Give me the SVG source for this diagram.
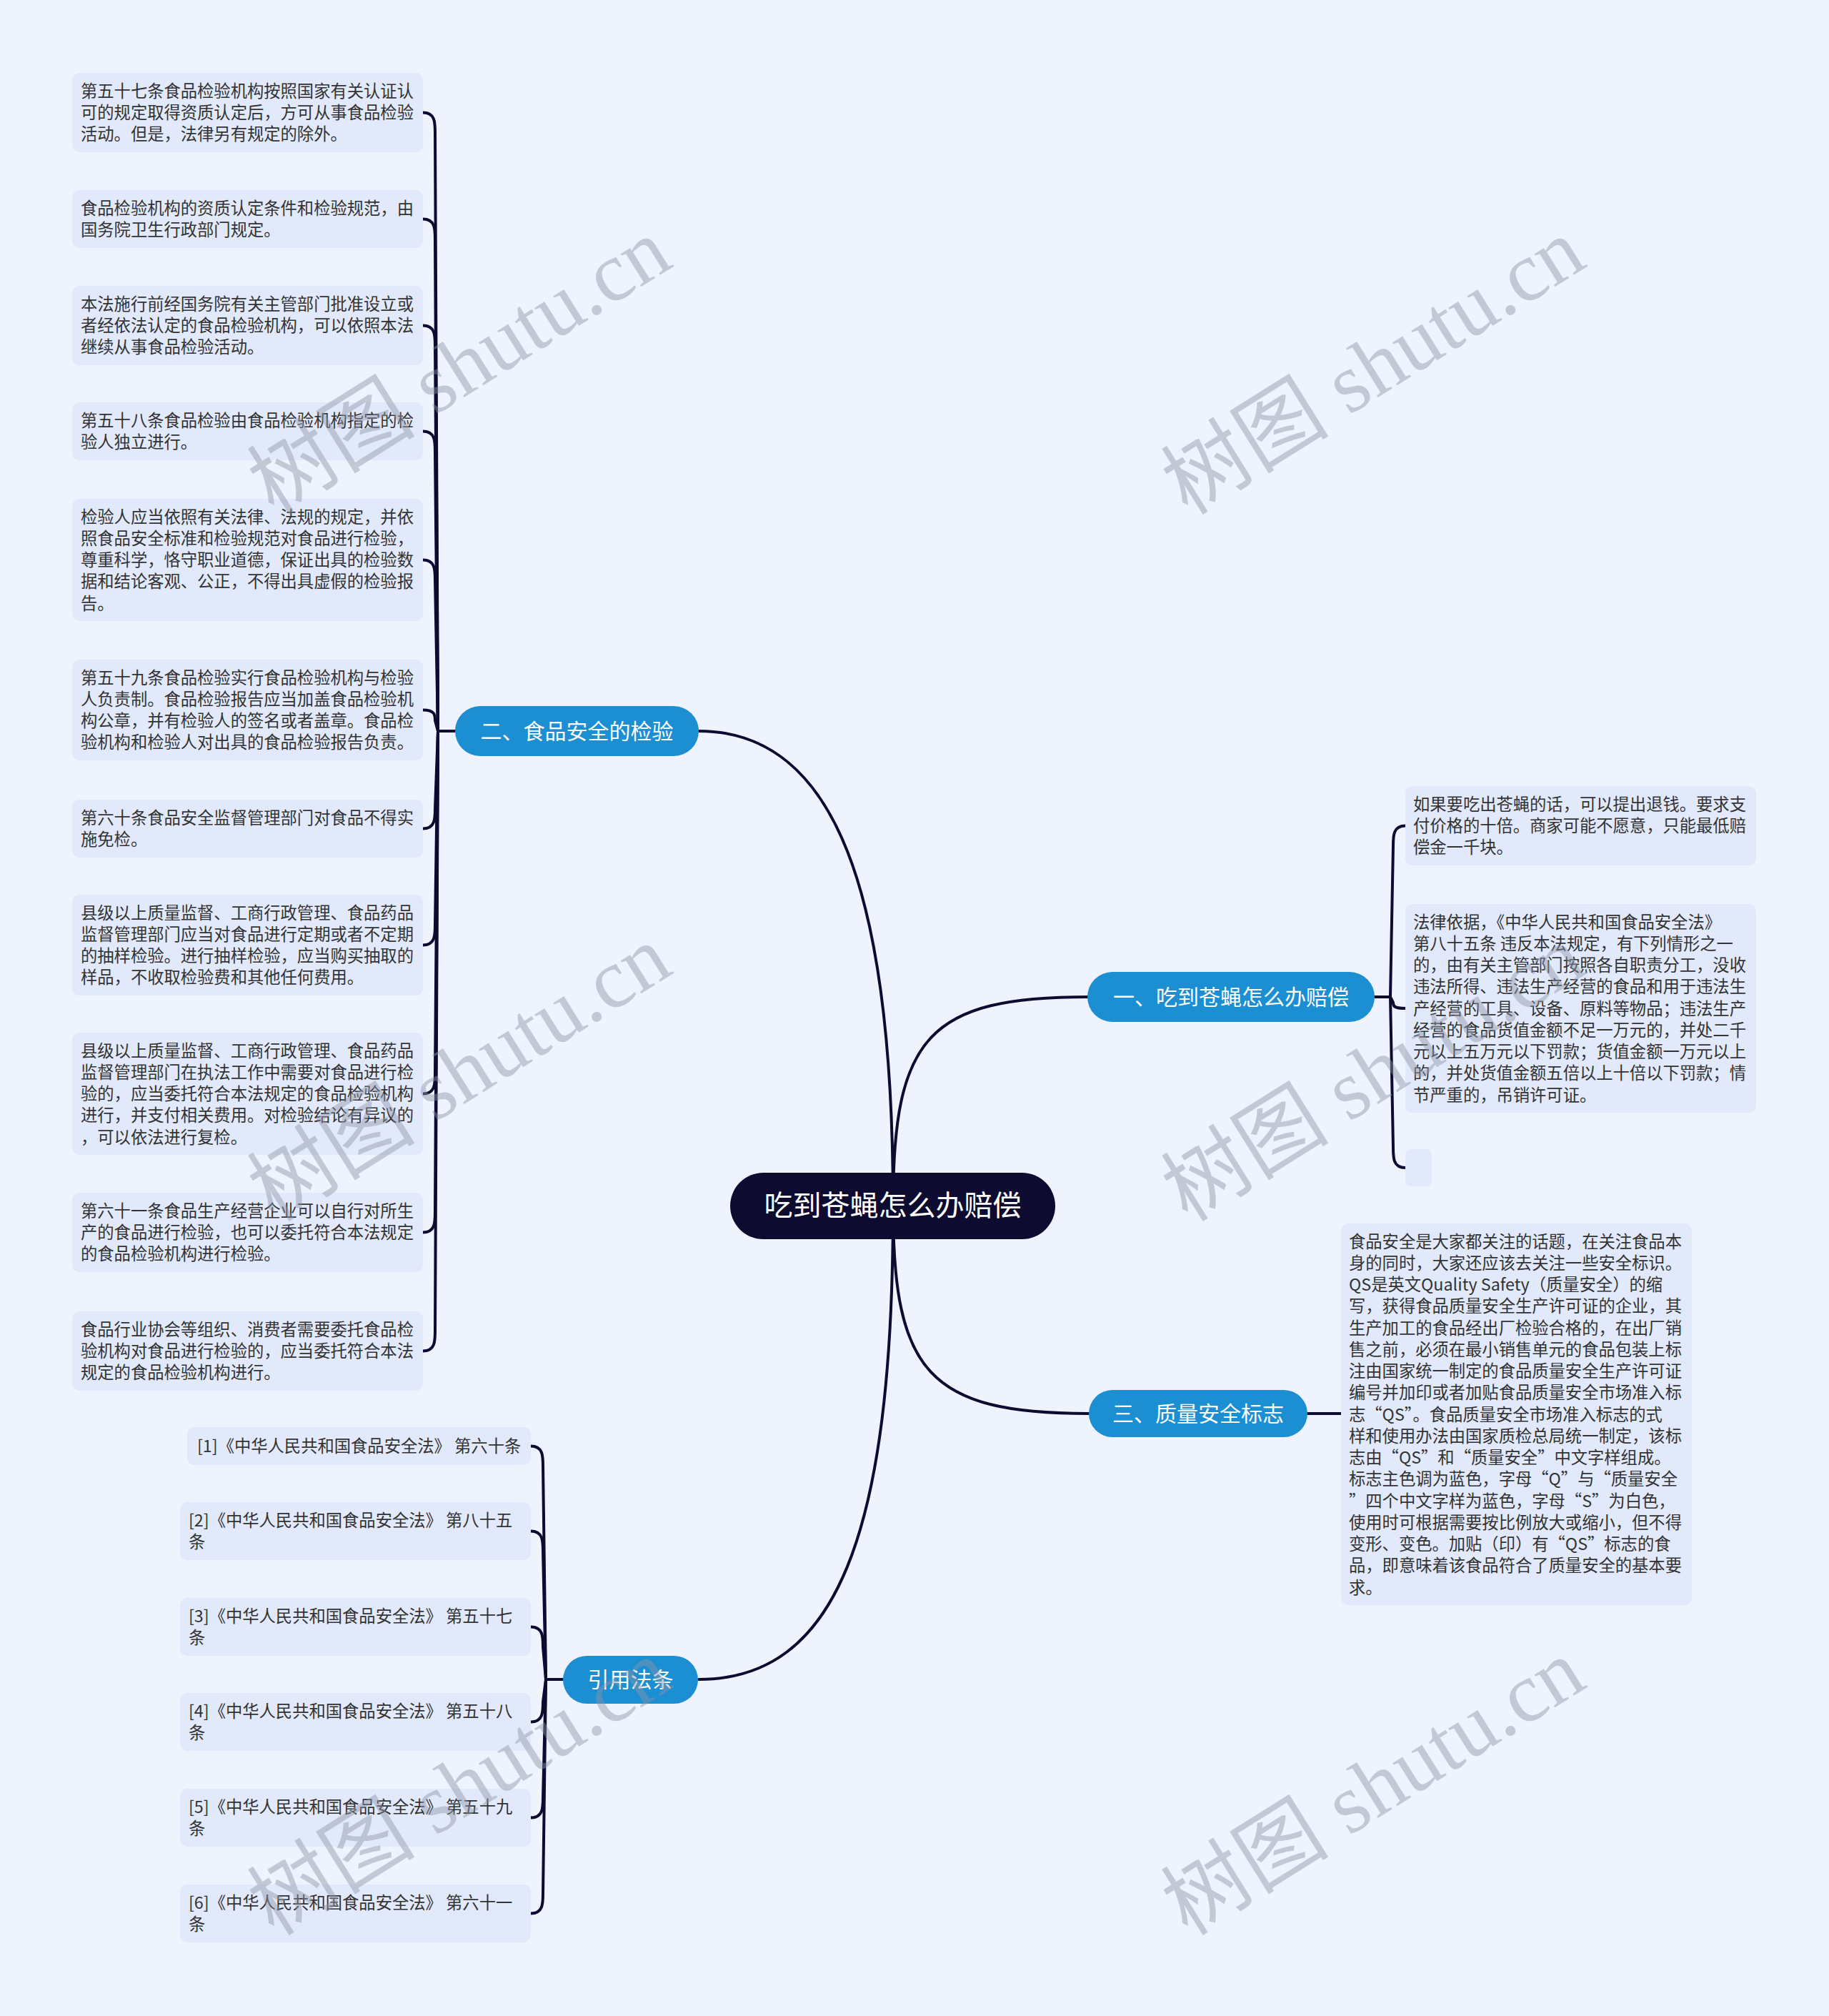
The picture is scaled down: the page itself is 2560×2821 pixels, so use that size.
<svg xmlns="http://www.w3.org/2000/svg" width="2560" height="2821" viewBox="0 0 2560 2821">
<style>
.bg{fill:#EEF3FE}
.leaf{fill:#E1E9FA}
.lt{font-family:"Noto Sans CJK SC","Noto Sans",sans-serif;font-size:23.3px;fill:#333333}
.root{fill:#0D0B2F}
.br{fill:#1B8FD2}
.nt{font-family:"Noto Sans CJK SC","Noto Sans",sans-serif;fill:#FFFFFF;text-anchor:middle}
.c{fill:none;stroke:#0D0B2F;stroke-width:4;stroke-linecap:round;stroke-linejoin:round}
.wm{font-family:"Liberation Serif","Noto Sans CJK SC",serif;font-size:118px;fill:#8E95A6;fill-opacity:0.45;text-anchor:middle}
</style>
<rect class="bg" x="0" y="0" width="2560" height="2821"/>

<g id="connectors">
  <path class="c" d="M 978 1023 C 1170 1023 1250 1250 1250 1687"/>
  <path class="c" d="M 1250 1687 C 1250 1450 1300 1395 1524 1395"/>
  <path class="c" d="M 1250 1687 C 1250 1920 1300 1978 1524 1978"/>
  <path class="c" d="M 1250 1687 C 1250 2150 1170 2350 978 2350"/>

  <path class="c" d="M 613 1023 L 637 1023"/>
  <path class="c" d="M 592 157.5 C 609 157.5 609 171.5 609 185.5 L 613 1023"/>
  <path class="c" d="M 592 306.5 C 609 306.5 609 320.5 609 334.5 L 613 1023"/>
  <path class="c" d="M 592 455.5 C 609 455.5 609 469.5 609 483.5 L 613 1023"/>
  <path class="c" d="M 592 603.5 C 609 603.5 609 617.5 609 631.5 L 613 1023"/>
  <path class="c" d="M 592 783.5 C 609 783.5 609 797.5 609 811.5 L 613 1023"/>
  <path class="c" d="M 592 993.5 C 609 993.5 609 1000.9 609 1008.3 L 613 1023"/>
  <path class="c" d="M 592 1159.5 C 609 1159.5 609 1145.5 609 1131.5 L 613 1023"/>
  <path class="c" d="M 592 1322.5 C 609 1322.5 609 1308.5 609 1294.5 L 613 1023"/>
  <path class="c" d="M 592 1530.5 C 609 1530.5 609 1516.5 609 1502.5 L 613 1023"/>
  <path class="c" d="M 592 1724.5 C 609 1724.5 609 1710.5 609 1696.5 L 613 1023"/>
  <path class="c" d="M 592 1890.5 C 609 1890.5 609 1876.5 609 1862.5 L 613 1023"/>

  <path class="c" d="M 1946 1395 L 1924 1395"/>
  <path class="c" d="M 1967 1155.5 C 1950 1155.5 1950 1169.5 1950 1183.5 L 1946 1395"/>
  <path class="c" d="M 1967 1411 C 1950 1411 1950 1407 1950 1403 L 1946 1395"/>
  <path class="c" d="M 1967 1634 C 1950 1634 1950 1620 1950 1606 L 1946 1395"/>

  <path class="c" d="M 1830 1978 L 1877 1978"/>

  <path class="c" d="M 764 2350 L 788 2350"/>
  <path class="c" d="M 743 2023.5 C 760 2023.5 760 2037.5 760 2051.5 L 764 2350"/>
  <path class="c" d="M 743 2142.5 C 760 2142.5 760 2156.5 760 2170.5 L 764 2350"/>
  <path class="c" d="M 743 2276.5 C 760 2276.5 760 2290.5 760 2304.5 L 764 2350"/>
  <path class="c" d="M 743 2409.5 C 760 2409.5 760 2395.5 760 2381.5 L 764 2350"/>
  <path class="c" d="M 743 2543.5 C 760 2543.5 760 2529.5 760 2515.5 L 764 2350"/>
  <path class="c" d="M 743 2677.5 C 760 2677.5 760 2663.5 760 2649.5 L 764 2350"/>
</g>

<g id="root">
  <rect class="root" x="1022" y="1641" width="455" height="93" rx="46.5"/>
  <text class="nt" x="1249.5" y="1701" font-size="40">吃到苍蝇怎么办赔偿</text>
</g>

<g id="branch-2">
  <rect class="br" x="637" y="988" width="341" height="70" rx="35"/>
  <text class="nt" x="807.5" y="1034" font-size="30">二、食品安全的检验</text>
</g>
<g id="branch-1">
  <rect class="br" x="1522" y="1360" width="402" height="70" rx="35"/>
  <text class="nt" x="1723" y="1406" font-size="30">一、吃到苍蝇怎么办赔偿</text>
</g>
<g id="branch-3">
  <rect class="br" x="1524" y="1945" width="306" height="66" rx="33"/>
  <text class="nt" x="1677" y="1989" font-size="30">三、质量安全标志</text>
</g>
<g id="branch-ref">
  <rect class="br" x="788" y="2317" width="189" height="67" rx="33.5"/>
  <text class="nt" x="882.5" y="2361" font-size="30">引用法条</text>
</g>

<g id="leaf-l1">
  <rect class="leaf" x="101" y="102" width="491" height="111" rx="10"/>
  <text class="lt" x="113" y="135.5"><tspan x="113">第五十七条食品检验机构按照国家有关认证认</tspan><tspan x="113" dy="30.25">可的规定取得资质认定后，方可从事食品检验</tspan><tspan x="113" dy="30.25">活动。但是，法律另有规定的除外。</tspan></text>
</g>
<g id="leaf-l2">
  <rect class="leaf" x="101" y="266" width="491" height="81" rx="10"/>
  <text class="lt" x="113" y="299.5"><tspan x="113">食品检验机构的资质认定条件和检验规范，由</tspan><tspan x="113" dy="30.25">国务院卫生行政部门规定。</tspan></text>
</g>
<g id="leaf-l3">
  <rect class="leaf" x="101" y="400" width="491" height="111" rx="10"/>
  <text class="lt" x="113" y="433.5"><tspan x="113">本法施行前经国务院有关主管部门批准设立或</tspan><tspan x="113" dy="30.25">者经依法认定的食品检验机构，可以依照本法</tspan><tspan x="113" dy="30.25">继续从事食品检验活动。</tspan></text>
</g>
<g id="leaf-l4">
  <rect class="leaf" x="101" y="563" width="491" height="81" rx="10"/>
  <text class="lt" x="113" y="596.5"><tspan x="113">第五十八条食品检验由食品检验机构指定的检</tspan><tspan x="113" dy="30.25">验人独立进行。</tspan></text>
</g>
<g id="leaf-l5">
  <rect class="leaf" x="101" y="698" width="491" height="171" rx="10"/>
  <text class="lt" x="113" y="731.5"><tspan x="113">检验人应当依照有关法律、法规的规定，并依</tspan><tspan x="113" dy="30.25">照食品安全标准和检验规范对食品进行检验，</tspan><tspan x="113" dy="30.25">尊重科学，恪守职业道德，保证出具的检验数</tspan><tspan x="113" dy="30.25">据和结论客观、公正，不得出具虚假的检验报</tspan><tspan x="113" dy="30.25">告。</tspan></text>
</g>
<g id="leaf-l6">
  <rect class="leaf" x="101" y="923" width="491" height="141" rx="10"/>
  <text class="lt" x="113" y="956.5"><tspan x="113">第五十九条食品检验实行食品检验机构与检验</tspan><tspan x="113" dy="30.25">人负责制。食品检验报告应当加盖食品检验机</tspan><tspan x="113" dy="30.25">构公章，并有检验人的签名或者盖章。食品检</tspan><tspan x="113" dy="30.25">验机构和检验人对出具的食品检验报告负责。</tspan></text>
</g>
<g id="leaf-l7">
  <rect class="leaf" x="101" y="1119" width="491" height="81" rx="10"/>
  <text class="lt" x="113" y="1152.5"><tspan x="113">第六十条食品安全监督管理部门对食品不得实</tspan><tspan x="113" dy="30.25">施免检。</tspan></text>
</g>
<g id="leaf-l8">
  <rect class="leaf" x="101" y="1252" width="491" height="141" rx="10"/>
  <text class="lt" x="113" y="1285.5"><tspan x="113">县级以上质量监督、工商行政管理、食品药品</tspan><tspan x="113" dy="30.25">监督管理部门应当对食品进行定期或者不定期</tspan><tspan x="113" dy="30.25">的抽样检验。进行抽样检验，应当购买抽取的</tspan><tspan x="113" dy="30.25">样品，不收取检验费和其他任何费用。</tspan></text>
</g>
<g id="leaf-l9">
  <rect class="leaf" x="101" y="1445" width="491" height="171" rx="10"/>
  <text class="lt" x="113" y="1478.5"><tspan x="113">县级以上质量监督、工商行政管理、食品药品</tspan><tspan x="113" dy="30.25">监督管理部门在执法工作中需要对食品进行检</tspan><tspan x="113" dy="30.25">验的，应当委托符合本法规定的食品检验机构</tspan><tspan x="113" dy="30.25">进行，并支付相关费用。对检验结论有异议的</tspan><tspan x="113" dy="30.25">，可以依法进行复检。</tspan></text>
</g>
<g id="leaf-l10">
  <rect class="leaf" x="101" y="1669" width="491" height="111" rx="10"/>
  <text class="lt" x="113" y="1702.5"><tspan x="113">第六十一条食品生产经营企业可以自行对所生</tspan><tspan x="113" dy="30.25">产的食品进行检验，也可以委托符合本法规定</tspan><tspan x="113" dy="30.25">的食品检验机构进行检验。</tspan></text>
</g>
<g id="leaf-l11">
  <rect class="leaf" x="101" y="1835" width="491" height="111" rx="10"/>
  <text class="lt" x="113" y="1868.5"><tspan x="113">食品行业协会等组织、消费者需要委托食品检</tspan><tspan x="113" dy="30.25">验机构对食品进行检验的，应当委托符合本法</tspan><tspan x="113" dy="30.25">规定的食品检验机构进行。</tspan></text>
</g>

<g id="leaf-r1">
  <rect class="leaf" x="1967" y="1100" width="491" height="111" rx="10"/>
  <text class="lt" x="1978" y="1133.5"><tspan x="1978">如果要吃出苍蝇的话，可以提出退钱。要求支</tspan><tspan x="1978" dy="30.25">付价格的十倍。商家可能不愿意，只能最低赔</tspan><tspan x="1978" dy="30.25">偿金一千块。</tspan></text>
</g>
<g id="leaf-r2">
  <rect class="leaf" x="1967" y="1265" width="491" height="292" rx="10"/>
  <text class="lt" x="1978" y="1298.5"><tspan x="1978">法律依据，《中华人民共和国食品安全法》</tspan><tspan x="1978" dy="30.25">第八十五条 违反本法规定，有下列情形之一</tspan><tspan x="1978" dy="30.25">的，由有关主管部门按照各自职责分工，没收</tspan><tspan x="1978" dy="30.25">违法所得、违法生产经营的食品和用于违法生</tspan><tspan x="1978" dy="30.25">产经营的工具、设备、原料等物品；违法生产</tspan><tspan x="1978" dy="30.25">经营的食品货值金额不足一万元的，并处二千</tspan><tspan x="1978" dy="30.25">元以上五万元以下罚款；货值金额一万元以上</tspan><tspan x="1978" dy="30.25">的，并处货值金额五倍以上十倍以下罚款；情</tspan><tspan x="1978" dy="30.25">节严重的，吊销许可证。</tspan></text>
</g>
<g id="leaf-r3">
  <rect class="leaf" x="1967" y="1608" width="37" height="52" rx="8"/>
</g>
<g id="leaf-qs">
  <rect class="leaf" x="1877" y="1712" width="491" height="534" rx="10"/>
  <text class="lt" x="1888" y="1745.5"><tspan x="1888">食品安全是大家都关注的话题，在关注食品本</tspan><tspan x="1888" dy="30.25">身的同时，大家还应该去关注一些安全标识。</tspan><tspan x="1888" dy="30.25">QS是英文Quality Safety（质量安全）的缩</tspan><tspan x="1888" dy="30.25">写，获得食品质量安全生产许可证的企业，其</tspan><tspan x="1888" dy="30.25">生产加工的食品经出厂检验合格的，在出厂销</tspan><tspan x="1888" dy="30.25">售之前，必须在最小销售单元的食品包装上标</tspan><tspan x="1888" dy="30.25">注由国家统一制定的食品质量安全生产许可证</tspan><tspan x="1888" dy="30.25">编号并加印或者加贴食品质量安全市场准入标</tspan><tspan x="1888" dy="30.25">志“QS”。食品质量安全市场准入标志的式</tspan><tspan x="1888" dy="30.25">样和使用办法由国家质检总局统一制定，该标</tspan><tspan x="1888" dy="30.25">志由“QS”和“质量安全”中文字样组成。</tspan><tspan x="1888" dy="30.25">标志主色调为蓝色，字母“Q”与“质量安全</tspan><tspan x="1888" dy="30.25">”四个中文字样为蓝色，字母“S”为白色，</tspan><tspan x="1888" dy="30.25">使用时可根据需要按比例放大或缩小，但不得</tspan><tspan x="1888" dy="30.25">变形、变色。加贴（印）有“QS”标志的食</tspan><tspan x="1888" dy="30.25">品，即意味着该食品符合了质量安全的基本要</tspan><tspan x="1888" dy="30.25">求。</tspan></text>
</g>

<g id="ref-1">
  <rect class="leaf" x="262" y="1997" width="481" height="53" rx="10"/>
  <text class="lt" x="276" y="2032">[1]《中华人民共和国食品安全法》 第六十条</text>
</g>
<g id="ref-2">
  <rect class="leaf" x="252" y="2102" width="491" height="81" rx="10"/>
  <text class="lt" x="264" y="2135.5"><tspan x="264">[2]《中华人民共和国食品安全法》 第八十五</tspan><tspan x="264" dy="30.25">条</tspan></text>
</g>
<g id="ref-3">
  <rect class="leaf" x="252" y="2236" width="491" height="81" rx="10"/>
  <text class="lt" x="264" y="2269.5"><tspan x="264">[3]《中华人民共和国食品安全法》 第五十七</tspan><tspan x="264" dy="30.25">条</tspan></text>
</g>
<g id="ref-4">
  <rect class="leaf" x="252" y="2369" width="491" height="81" rx="10"/>
  <text class="lt" x="264" y="2402.5"><tspan x="264">[4]《中华人民共和国食品安全法》 第五十八</tspan><tspan x="264" dy="30.25">条</tspan></text>
</g>
<g id="ref-5">
  <rect class="leaf" x="252" y="2503" width="491" height="81" rx="10"/>
  <text class="lt" x="264" y="2536.5"><tspan x="264">[5]《中华人民共和国食品安全法》 第五十九</tspan><tspan x="264" dy="30.25">条</tspan></text>
</g>
<g id="ref-6">
  <rect class="leaf" x="252" y="2637" width="491" height="81" rx="10"/>
  <text class="lt" x="264" y="2670.5"><tspan x="264">[6]《中华人民共和国食品安全法》 第六十一</tspan><tspan x="264" dy="30.25">条</tspan></text>
</g>

<g id="watermarks">
  <text class="wm" transform="translate(643,513) rotate(-32)" x="0" y="40">树图 shutu.cn</text>
  <text class="wm" transform="translate(1922,513) rotate(-32)" x="0" y="40">树图 shutu.cn</text>
  <text class="wm" transform="translate(643,1502) rotate(-32)" x="0" y="40">树图 shutu.cn</text>
  <text class="wm" transform="translate(1922,1502) rotate(-32)" x="0" y="40">树图 shutu.cn</text>
  <text class="wm" transform="translate(643,2501) rotate(-32)" x="0" y="40">树图 shutu.cn</text>
  <text class="wm" transform="translate(1922,2501) rotate(-32)" x="0" y="40">树图 shutu.cn</text>
</g>
</svg>
